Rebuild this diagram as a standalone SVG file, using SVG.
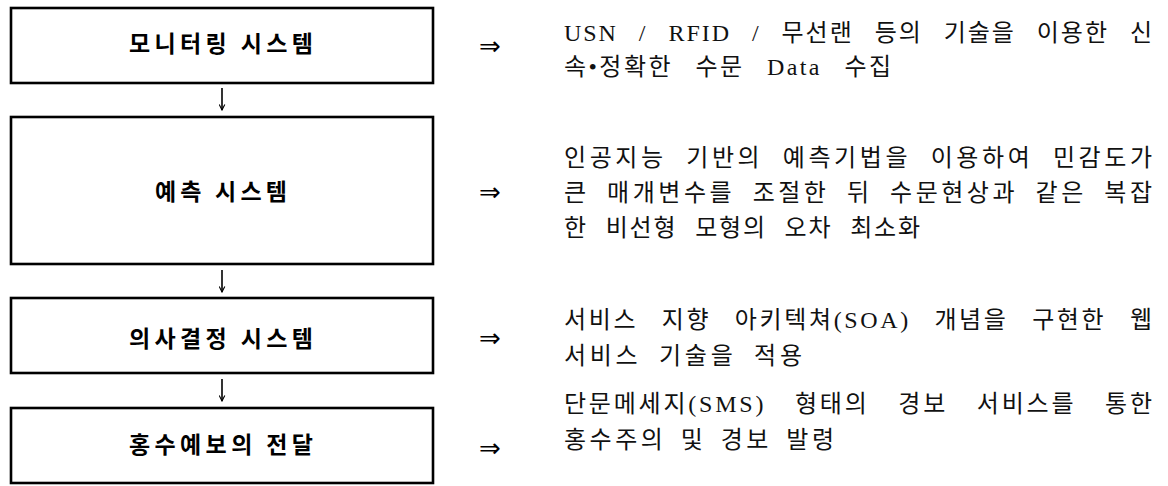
<svg xmlns="http://www.w3.org/2000/svg" width="1168" height="486" viewBox="0 0 1168 486">
<defs>
<style>
.box{fill:#fff;stroke:#000;stroke-width:2.6}
.lbl{font-family:"Noto Sans CJK KR","Liberation Sans",sans-serif;font-size:23px;font-weight:bold;fill:#000;text-anchor:middle}
.desc{font-family:"Liberation Serif","Noto Sans CJK KR",serif;font-size:24px;fill:#111}
.imp{font-family:"DejaVu Sans",sans-serif;font-size:26px;fill:#000;text-anchor:middle}
.con{stroke:#000;stroke-width:1.6;fill:none}
</style>
<marker id="ah" viewBox="0 0 10 10" refX="9" refY="5" markerWidth="7" markerHeight="7" markerUnits="userSpaceOnUse" orient="auto">
<path d="M1,1 L9,5 L1,9" fill="none" stroke="#000" stroke-width="1.6"/>
</marker>
</defs>
<rect width="1168" height="486" fill="#fff"/>
<g id="node-monitoring">
<rect class="box" x="11" y="8" width="422" height="75"/>
<text class="lbl" x="221" y="52" textLength="184" lengthAdjust="spacing">모니터링 시스템</text>
<text class="imp" x="490" y="55">⇒</text>
<text class="desc" x="564" y="41" word-spacing="13" textLength="588" lengthAdjust="spacing">USN / RFID / 무선랜 등의 기술을 이용한 신</text>
<text class="desc" x="564" y="75" word-spacing="14" textLength="327" lengthAdjust="spacing">속•정확한 수문 Data 수집</text>
</g>
<g id="node-prediction">
<rect class="box" x="11" y="117" width="422" height="147"/>
<text class="lbl" x="221" y="200" textLength="132" lengthAdjust="spacing">예측 시스템</text>
<text class="imp" x="490" y="201">⇒</text>
<text class="desc" x="564" y="166" word-spacing="10" textLength="588" lengthAdjust="spacing">인공지능 기반의 예측기법을 이용하여 민감도가</text>
<text class="desc" x="564" y="201" word-spacing="8" textLength="588" lengthAdjust="spacing">큰 매개변수를 조절한 뒤 수문현상과 같은 복잡</text>
<text class="desc" x="564" y="236" word-spacing="10" textLength="356" lengthAdjust="spacing">한 비선형 모형의 오차 최소화</text>
</g>
<g id="node-decision">
<rect class="box" x="11" y="298" width="422" height="75"/>
<text class="lbl" x="221" y="347" textLength="184" lengthAdjust="spacing">의사결정 시스템</text>
<text class="imp" x="490" y="347">⇒</text>
<text class="desc" x="564" y="328" word-spacing="15" textLength="588" lengthAdjust="spacing">서비스 지향 아키텍쳐(SOA) 개념을 구현한 웹</text>
<text class="desc" x="564" y="364" word-spacing="8" textLength="238" lengthAdjust="spacing">서비스 기술을 적용</text>
</g>
<g id="node-forecast">
<rect class="box" x="11" y="408" width="422" height="75"/>
<text class="lbl" x="221" y="453" textLength="184" lengthAdjust="spacing">홍수예보의 전달</text>
<text class="imp" x="490" y="457">⇒</text>
<text class="desc" x="564" y="412" word-spacing="20" textLength="588" lengthAdjust="spacing">단문메세지(SMS) 형태의 경보 서비스를 통한</text>
<text class="desc" x="564" y="448" word-spacing="5" textLength="270" lengthAdjust="spacing">홍수주의 및 경보 발령</text>
</g>
<g id="connectors">
<path class="con" d="M222,88 L222,110" marker-end="url(#ah)"/>
<path class="con" d="M222,270 L222,292" marker-end="url(#ah)"/>
<path class="con" d="M222,379 L222,401" marker-end="url(#ah)"/>
</g>
</svg>
